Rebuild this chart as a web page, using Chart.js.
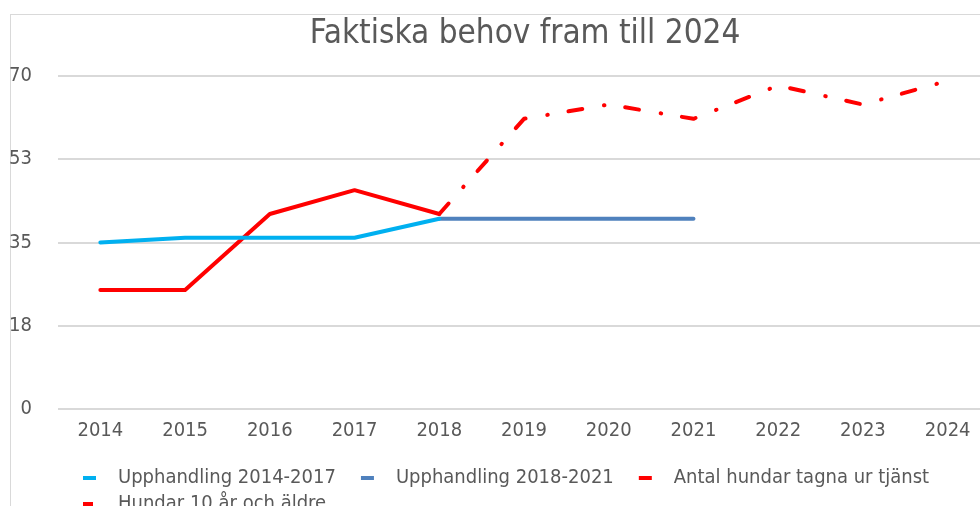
<!DOCTYPE html>
<html>
<head>
<meta charset="utf-8">
<script src="https://cdn.jsdelivr.net/npm/chart.js@4.4.1/dist/chart.umd.min.js"></script>
<style>
    html, body { margin: 0; padding: 0; background: #fff; overflow: hidden; width: 980px; height: 506px; }
    #frame { position: absolute; left: 10px; top: 14px; width: 1100px; height: 600px; border: 1px solid #d9d9d9; }
    #wrap { position: absolute; left: 0; top: 0; width: 1050px; height: 524px; }
</style>
</head>
<body>
<div id="frame"></div>
<div id="wrap"><canvas id="chart"></canvas></div>
<script>
const years = ['2014', '2015', '2016', '2017', '2018', '2019', '2020', '2021', '2022', '2023', '2024'];
const upphandling1417 = [35, 36, 36, 36, 40, null, null, null, null, null, null];
const upphandling1821 = [null, null, null, null, 40, 40, 40, 40, null, null, null];
const tagnaUrTjanst = [25, 25, 41, 46, 41, null, null, null, null, null, null];
const hundar10Ar = [null, null, null, null, 41, 61, 64, 61, 68, 64, 69];
const yTickValues = [0, 17.5, 35, 52.5, 70];
const yTickLabels = ['0', '18', '35', '53', '70'];

const textColor = '#595959';
const fontFamily = '"DejaVu Sans Condensed", "DejaVu Sans", sans-serif';

// small legend marker: a short line sitting inside a wider transparent box
function legendIcon(color, len) {
    const c = document.createElement('canvas');
    c.width = 44;
    c.height = 6;
    const g = c.getContext('2d');
    g.fillStyle = color;
    g.fillRect(19, 1, len, 4);
    return c;
}

function line(label, data, color, dash) {
    return {
        label: label,
        data: data,
        borderColor: color,
        backgroundColor: color,
        borderWidth: 4,
        borderCapStyle: 'round',
        borderJoinStyle: 'round',
        borderDash: dash || [],
        pointRadius: 0,
        tension: 0,
        spanGaps: false
    };
}

const icons = [
    legendIcon('#00B0F0', 13),
    legendIcon('#4F81BD', 13),
    legendIcon('#FF0000', 13),
    legendIcon('#FF0000', 10)
];

const ctx = document.getElementById('chart').getContext('2d');
const chart = new Chart(ctx, {
    type: 'line',
    data: {
        labels: years,
        datasets: [
            line('Upphandling 2014-2017', upphandling1417, '#00B0F0'),
            line('Upphandling 2018-2021', upphandling1821, '#4F81BD'),
            line('Antal hundar tagna ur tjänst', tagnaUrTjanst, '#FF0000'),
            line('Hundar 10 år och äldre', hundar10Ar, '#FF0000', [14, 22, 0.5, 21])
        ]
    },
    options: {
        responsive: true,
        maintainAspectRatio: false,
        animation: false,
        layout: { padding: 0 },
        scales: {
            x: {
                offset: true,
                grid: { display: false },
                border: { display: false },
                ticks: { color: textColor, font: { family: fontFamily, size: 20 }, padding: 2, maxRotation: 0 },
                afterFit: (s) => { s.height = 53; }
            },
            y: {
                min: 0,
                max: 70,
                afterBuildTicks: (s) => { s.ticks = yTickValues.map(v => ({ value: v })); },
                ticks: {
                    color: textColor,
                    font: { family: fontFamily, size: 20 },
                    padding: 26,
                    callback: (v) => yTickLabels[yTickValues.indexOf(v)]
                },
                grid: { color: '#d9d9d9', lineWidth: 2, drawTicks: false },
                border: { display: false },
                afterFit: (s) => { s.width = 58; }
            },
            y2: {
                position: 'right',
                grid: { display: false },
                border: { display: false },
                ticks: { display: false },
                afterFit: (s) => { s.width = 60; }
            }
        },
        plugins: {
            title: {
                display: true,
                text: 'Faktiska behov fram till 2024',
                color: textColor,
                font: { family: fontFamily, size: 33, weight: 'normal' },
                padding: { top: 15, bottom: 21.4 }
            },
            legend: {
                position: 'bottom',
                align: 'start',
                fullSize: false,
                labels: {
                    color: textColor,
                    font: { family: fontFamily, size: 20 },
                    usePointStyle: true,
                    pointStyleWidth: 44,
                    padding: 6,
                    generateLabels: (c) => Chart.defaults.plugins.legend.labels.generateLabels(c)
                        .map((l, i) => Object.assign(l, { pointStyle: icons[i], lineWidth: 0 }))
                }
            },
            tooltip: { enabled: false }
        }
    }
});
</script>
</body>
</html>
